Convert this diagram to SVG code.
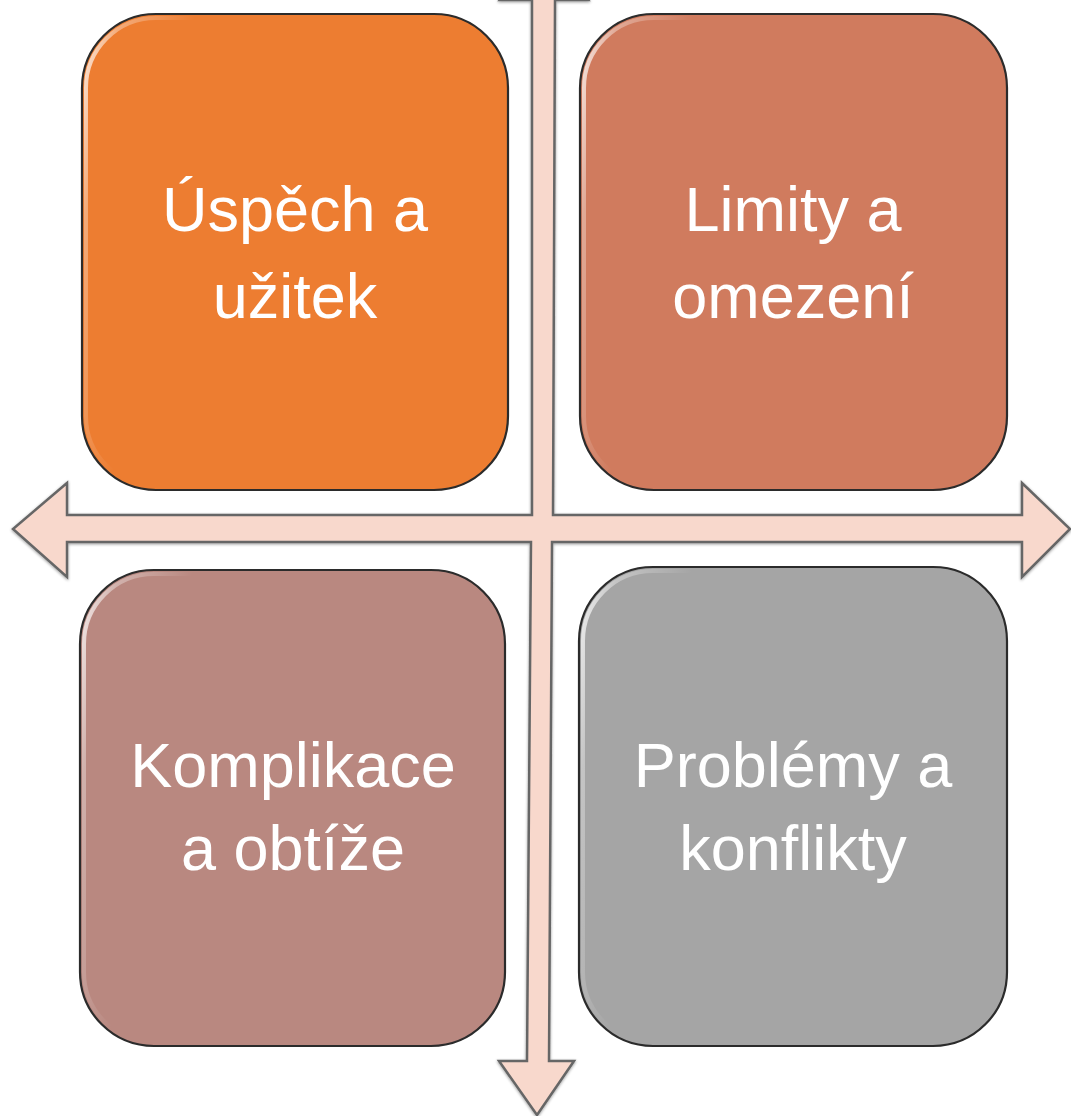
<svg xmlns="http://www.w3.org/2000/svg" width="1071" height="1116" viewBox="0 0 1071 1116">
<defs>
<linearGradient id="hl" x1="0" y1="0" x2="1" y2="0.2">
<stop offset="0" stop-color="#fff" stop-opacity="0.85"/>
<stop offset="0.08" stop-color="#fff" stop-opacity="0.35"/>
<stop offset="0.25" stop-color="#fff" stop-opacity="0"/>
</linearGradient>
<filter id="sh" x="-5%" y="-5%" width="110%" height="110%">
<feGaussianBlur in="SourceAlpha" stdDeviation="1.5"/>
<feOffset dx="0" dy="1" result="b"/>
<feComponentTransfer><feFuncA type="linear" slope="0.4"/></feComponentTransfer>
<feMerge><feMergeNode/><feMergeNode in="SourceGraphic"/></feMerge>
</filter>
</defs>
<style>
.box{stroke:#2b2b2b;stroke-width:2.2}
.hl{fill:none;stroke:url(#hl);stroke-width:4}
.lbl{font-family:"Liberation Sans",Arial,sans-serif;font-size:63px;fill:#fff;text-anchor:middle}
.arrow{fill:#F8D8CC;stroke:#666;stroke-width:2.5;stroke-linejoin:miter}
</style>
<rect width="1071" height="1116" fill="#fff"/>
<g id="connectors">
<path class="arrow" filter="url(#sh)" d="M500,0 L544,-48 L588,0 L555,0 L553,515 L1022,515 L1022,483 L1070,529 L1022,577 L1022,542 L552,542 L549,1061 L574,1061 L537,1115 L499,1061 L527,1061 L531,542 L67,542 L67,577 L13,529 L67,483 L67,515 L532,515 L532,0 Z"/>
</g>
<g id="node-uspech">
<rect class="box" x="82" y="14" width="426" height="476" rx="74" fill="#ED7D31"/>
<rect class="hl" x="86" y="18" width="418" height="468" rx="70"/>
<text class="lbl" x="295" y="231">Úspěch a</text>
<text class="lbl" x="295" y="318">užitek</text>
</g>
<g id="node-limity">
<rect class="box" x="580" y="14" width="427" height="476" rx="74" fill="#D07B5E"/>
<rect class="hl" x="584" y="18" width="419" height="468" rx="70"/>
<text class="lbl" x="793" y="231">Limity a</text>
<text class="lbl" x="793" y="318">omezení</text>
</g>
<g id="node-komplikace">
<rect class="box" x="80" y="570" width="425" height="476" rx="74" fill="#B98880"/>
<rect class="hl" x="84" y="574" width="417" height="468" rx="70"/>
<text class="lbl" x="293" y="787">Komplikace</text>
<text class="lbl" x="293" y="870">a obtíže</text>
</g>
<g id="node-problemy">
<rect class="box" x="579" y="567" width="428" height="479" rx="74" fill="#A5A5A5"/>
<rect class="hl" x="583" y="571" width="420" height="471" rx="70"/>
<text class="lbl" x="793" y="787">Problémy a</text>
<text class="lbl" x="793" y="870">konflikty</text>
</g>
</svg>
